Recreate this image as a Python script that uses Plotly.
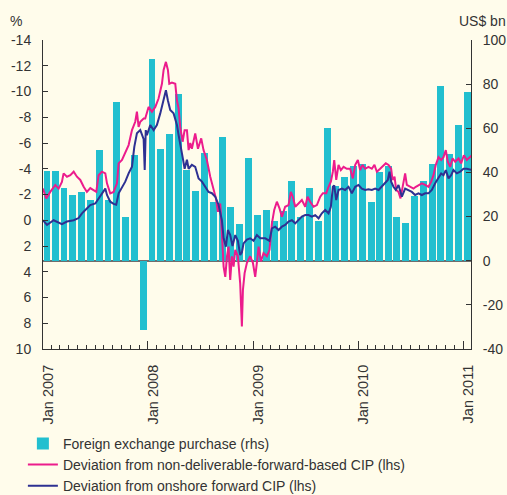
import pandas as pd
import plotly.graph_objects as go

# ---------------- data ----------------
bar_months = pd.date_range("2007-01-01", "2011-01-01", freq="MS") + pd.Timedelta(days=14)
fx_purchase = [
    40.5, 40.5, 33.0, 30.0, 31.0, 27.3, 50.0, 27.5, 72.0, 19.7, 47.7, -31.4,
    91.4, 50.5, 57.3, 75.5, 41.0, 31.8, 49.0, 26.8, 56.0, 24.5, 16.8, 46.4,
    20.9, 23.0, 18.2, 22.7, 35.9, 19.7, 32.9, 17.9, 60.2, 34.0, 37.9, 42.7,
    43.9, 26.5, 40.2, 43.0, 19.7, 17.3, 29.5, 35.9, 43.6, 79.0, 48.2, 61.4,
    76.4,
]

# decimal-year time stamps and values
ndf_t = [
    2007.000, 2007.031, 2007.069, 2007.117, 2007.149, 2007.180, 2007.196, 2007.228, 2007.260, 2007.292,
    2007.323, 2007.355, 2007.387, 2007.418, 2007.450, 2007.482, 2007.507, 2007.529, 2007.561, 2007.593,
    2007.609, 2007.640, 2007.672, 2007.704, 2007.720, 2007.752, 2007.783, 2007.815, 2007.847, 2007.878,
    2007.894, 2007.910, 2007.926, 2007.958,
    2007.973, 2008.005, 2008.037, 2008.069, 2008.100, 2008.132, 2008.148, 2008.170, 2008.189, 2008.202,
    2008.227, 2008.259, 2008.275, 2008.291, 2008.306, 2008.329, 2008.348, 2008.370, 2008.386, 2008.402,
    2008.417, 2008.449, 2008.475, 2008.506, 2008.528, 2008.560, 2008.592, 2008.624, 2008.646, 2008.665,
    2008.687, 2008.703, 2008.719, 2008.735, 2008.751, 2008.766, 2008.782, 2008.798, 2008.814, 2008.830,
    2008.855, 2008.877, 2008.893, 2008.903, 2008.919, 2008.941,
    2008.972, 2008.998, 2009.020, 2009.036, 2009.052, 2009.074, 2009.099, 2009.131, 2009.156, 2009.179,
    2009.201, 2009.226, 2009.252, 2009.274, 2009.305, 2009.337, 2009.359, 2009.378, 2009.401, 2009.432,
    2009.464, 2009.496, 2009.518, 2009.543, 2009.575, 2009.607, 2009.639, 2009.664, 2009.696, 2009.718,
    2009.740, 2009.759, 2009.772, 2009.791, 2009.813, 2009.835, 2009.861, 2009.892, 2009.924, 2009.949,
    2009.972, 2009.997, 2010.019, 2010.041, 2010.067, 2010.098, 2010.130, 2010.155, 2010.178, 2010.209,
    2010.241, 2010.263, 2010.289, 2010.314, 2010.327, 2010.346, 2010.362, 2010.384, 2010.403, 2010.422,
    2010.447, 2010.463, 2010.495, 2010.527, 2010.549, 2010.574, 2010.606, 2010.638, 2010.669, 2010.695,
    2010.717, 2010.739, 2010.765, 2010.790, 2010.812, 2010.834, 2010.853, 2010.876, 2010.898, 2010.923,
    2010.955, 2010.980, 2011.006, 2011.034, 2011.066, 2011.082,
]
ndf_v = [
    -2.46, -1.70, -2.20, -2.74, -2.46, -2.98, -3.64, -3.38, -3.50, -3.77,
    -3.38, -3.13, -2.60, -2.20, -2.50, -2.30, -2.20, -3.50, -3.77, -3.64,
    -2.87, -2.09, -2.20, -2.87, -4.42, -4.68, -5.32, -5.84, -7.00, -7.65,
    -8.43, -7.25, -7.65, -7.90,
    -7.90, -8.80, -8.43, -8.80, -9.45, -10.60, -11.67, -12.30, -11.67, -10.60,
    -10.70, -10.60, -9.30, -8.67, -7.25, -6.10, -7.00, -7.00, -5.45, -6.00,
    -5.55, -6.75, -5.55, -6.36, -5.45, -4.68, -3.38, -2.35, -1.70, -0.66,
    -1.30, 1.00, 3.60, 4.40, 2.80, 2.05, 4.64, 2.80, 3.60, 2.30,
    2.80, 4.90, 8.25, 5.40, 4.10, 3.30,
    2.80, 3.30, 4.40, 3.30, 2.05, 3.20, 2.55, 2.80, 2.30, 0.24,
    -0.80, -1.44, -0.90, -0.28, -1.05, -1.18, -2.20, -1.83, -1.05, -1.30,
    -1.57, -1.05, -1.83, -1.44, -1.05, -1.18, -1.83, -2.10, -2.10, -2.60,
    -3.00, -3.77, -4.68, -3.13, -4.30, -3.90, -4.15, -4.00, -4.00, -3.25,
    -4.30, -4.68, -3.90, -4.30, -4.00, -4.15, -4.00, -4.30, -3.77, -4.00,
    -4.30, -4.42, -4.30, -4.00, -3.13, -3.38, -2.35, -2.20, -1.70, -2.46,
    -3.64, -2.74, -2.60, -2.46, -2.60, -2.74, -2.87, -2.74, -2.60, -3.00,
    -3.50, -4.30, -4.90, -4.68, -4.90, -5.45, -4.55, -4.15, -4.80, -4.55,
    -4.80, -4.42, -5.05, -4.68, -4.90, -5.05,
]

onshore_t = [
    2007.000, 2007.038, 2007.101, 2007.180, 2007.228, 2007.292, 2007.339, 2007.371, 2007.403, 2007.450,
    2007.498, 2007.529, 2007.561, 2007.593, 2007.609, 2007.640, 2007.672, 2007.697, 2007.720, 2007.752,
    2007.783, 2007.815, 2007.847, 2007.869, 2007.894, 2007.926, 2007.958, 2007.968, 2007.978,
    2007.989, 2008.021, 2008.053, 2008.084, 2008.116, 2008.148, 2008.170, 2008.189, 2008.211, 2008.243,
    2008.275, 2008.291, 2008.306, 2008.329, 2008.348, 2008.370, 2008.386, 2008.417, 2008.449, 2008.481,
    2008.513, 2008.544, 2008.576, 2008.608, 2008.640, 2008.671, 2008.703, 2008.719, 2008.741, 2008.760,
    2008.782, 2008.804, 2008.830, 2008.855, 2008.877, 2008.893, 2008.909, 2008.941,
    2008.972, 2009.004, 2009.036, 2009.068, 2009.115, 2009.156, 2009.179, 2009.210, 2009.242, 2009.274,
    2009.305, 2009.337, 2009.369, 2009.401, 2009.432, 2009.464, 2009.496, 2009.528, 2009.559, 2009.591,
    2009.623, 2009.654, 2009.686, 2009.718, 2009.740, 2009.759, 2009.772, 2009.791, 2009.813, 2009.845,
    2009.876, 2009.908, 2009.940,
    2009.972, 2010.003, 2010.035, 2010.067, 2010.098, 2010.130, 2010.162, 2010.194, 2010.225, 2010.257,
    2010.282, 2010.298, 2010.314, 2010.336, 2010.358, 2010.384, 2010.400, 2010.416, 2010.447, 2010.479,
    2010.511, 2010.542, 2010.574, 2010.606, 2010.638, 2010.669, 2010.701, 2010.733, 2010.765, 2010.790,
    2010.812, 2010.834, 2010.860, 2010.885, 2010.907, 2010.939, 2010.971, 2011.002, 2011.034, 2011.066,
    2011.082,
]
onshore_v = [
    0.00, 0.37, 0.00, 0.30, 0.10, 0.00, -0.17, -0.54, -0.80, -1.18,
    -1.30, -1.70, -2.09, -2.46, -1.96, -1.44, -1.27, -1.20, -2.09, -2.50,
    -3.00, -3.64, -4.16, -5.70, -6.75, -7.00, -6.30, -3.90, -7.00,
    -6.60, -7.40, -7.00, -7.40, -8.30, -9.45, -10.10, -9.30, -8.56, -8.30,
    -7.40, -6.60, -6.00, -4.90, -4.00, -4.70, -4.00, -4.30, -4.15, -3.25,
    -3.00, -2.60, -2.20, -2.10, -1.83, -1.20, 0.00, 1.40, 2.05, 0.76,
    1.15, 2.00, 1.15, 1.60, 2.70, 2.50, 1.80, 1.50,
    1.40, 1.60, 1.15, 1.40, 1.40, 1.60, 0.63, 0.50, 0.76, 0.50,
    0.37, 0.10, 0.00, 0.24, 0.00, -0.28, -0.40, -0.40, -0.28, -0.40,
    -0.15, -0.54, -0.80, -0.54, -1.05, -2.60, -2.70, -1.57, -2.35, -2.46,
    -2.35, -2.60, -2.10,
    -2.60, -2.74, -2.46, -2.35, -2.40, -2.35, -2.46, -2.35, -2.60, -2.87,
    -3.13, -3.77, -3.00, -2.60, -2.35, -2.74, -2.20, -1.83, -2.46, -2.35,
    -2.20, -1.96, -2.09, -1.96, -2.09, -2.09, -2.35, -2.87, -3.25, -3.64,
    -3.50, -3.90, -3.25, -3.50, -3.90, -3.64, -3.77, -4.00, -4.00, -3.90,
    -3.90,
]

left_ticks = [-14, -12, -10, -8, -6, -4, -2, 0, 2, 4, 6, 8, 10]
right_ticks = [-40, -20, 0, 20, 40, 60, 80, 100]


def to_dates(ts):
    base = pd.Timestamp("2007-01-01")
    return [base + pd.Timedelta(days=(t - 2007.0) * 365.25) for t in ts]


BG = "#FFFCEB"
TEAL = "#22BFCF"
PINK = "#EC1C8C"
NAVY = "#2E3192"
AX = "#333333"
FONT = "Liberation Sans, Arial, sans-serif"

fig = go.Figure()
fig.add_trace(go.Bar(
    x=bar_months, y=fx_purchase, name="Foreign exchange purchase (rhs)",
    marker=dict(color=TEAL, line=dict(width=0)), legendgroup="a",
    width=[24 * 86400000] * len(fx_purchase), yaxis="y",
))
fig.add_trace(go.Scatter(
    x=to_dates(ndf_t), y=ndf_v, mode="lines", yaxis="y2", legendgroup="b",
    name="Deviation from non-deliverable-forward-based CIP (lhs)",
    line=dict(color=PINK, width=2),
))
fig.add_trace(go.Scatter(
    x=to_dates(onshore_t), y=onshore_v, mode="lines", yaxis="y2", legendgroup="c",
    name="Deviation from onshore forward CIP (lhs)",
    line=dict(color=NAVY, width=2),
))

fig.update_layout(
    width=507, height=495,
    margin=dict(l=43, r=36, t=40, b=146, autoexpand=False),
    paper_bgcolor=BG, plot_bgcolor=BG,
    font=dict(family=FONT, size=14, color=AX),
    showlegend=True,
    legend=dict(x=-0.047, y=-0.255, xanchor="left", yanchor="top",
                bgcolor="rgba(0,0,0,0)", font=dict(size=14, color=AX),
                tracegroupgap=0, itemwidth=30),
    bargap=0,
    xaxis=dict(
        type="date", range=["2007-01-01", "2011-01-28"], automargin=False,
        showline=True, linecolor=AX, linewidth=1, mirror=False,
        showgrid=False, zeroline=False,
        tickmode="linear", tick0="2007-01-01", dtick="M12",
        tickformat="%b %Y", tickangle=-90, tickfont=dict(size=14.5),
        ticks="inside", ticklen=8, tickcolor=AX,
        ticklabelshift=5, ticklabelstandoff=9,
        minor=dict(dtick="M1", tick0="2007-01-01", ticks="inside", ticklen=4, tickcolor=AX, showgrid=False),
    ),
    yaxis=dict(
        side="right", range=[-40, 100], automargin=False,
        tickmode="array", tickvals=right_ticks, ticktext=[str(v) for v in right_ticks],
        showline=True, linecolor=AX, linewidth=1,
        ticks="inside", ticklen=5, tickcolor=AX,
        showgrid=False, zeroline=True, zerolinecolor="#6E6E6E", zerolinewidth=1.5,
        ticklabelstandoff=8,
    ),
    yaxis2=dict(
        overlaying="y", side="left", anchor="x", range=[10, -14], automargin=False,
        tickmode="array", tickvals=left_ticks, ticktext=[str(v) for v in left_ticks],
        showline=True, linecolor=AX, linewidth=1,
        ticks="inside", ticklen=5, tickcolor=AX,
        showgrid=False, zeroline=False,
        ticklabelstandoff=8,
    ),
    annotations=[
        dict(text="%", xref="paper", yref="paper", x=-0.082, y=1.062,
             xanchor="left", yanchor="middle", showarrow=False, font=dict(size=14, color=AX)),
        dict(text="US$ bn", xref="paper", yref="paper", x=1.086, y=1.062,
             xanchor="right", yanchor="middle", showarrow=False, font=dict(size=14, color=AX)),
    ],
)

fig.write_html(
    "out.html",
    config={"displayModeBar": False},
    post_script=f"document.body.style.margin='0';document.body.style.background='{BG}';",
)
